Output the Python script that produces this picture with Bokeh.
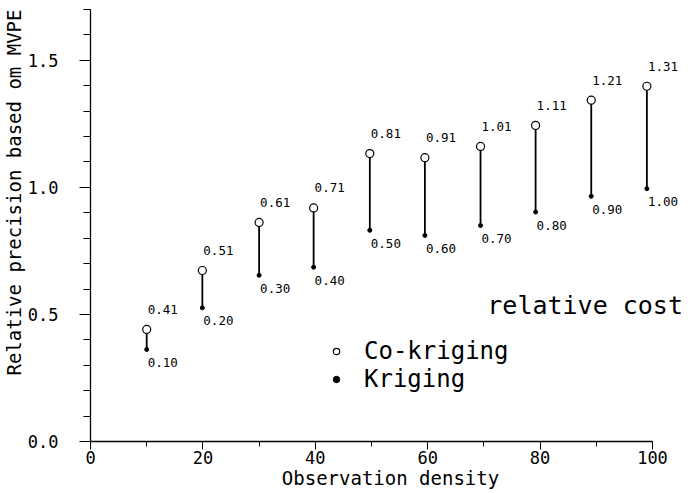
from bokeh.plotting import figure
from bokeh.models import (ColumnDataSource, Range1d, SingleIntervalTicker, Legend,
                          LegendItem, Label, PrintfTickFormatter, Title)
from bokeh.core.properties import value
from bokeh.embed import file_html
from bokeh.resources import INLINE

# ---- data ----
density = [10, 19.9, 30, 39.7, 49.7, 59.5, 69.4, 79.2, 89.1, 99.0]
cokriging = [0.441, 0.673, 0.862, 0.919, 1.133, 1.117, 1.161, 1.244, 1.343, 1.398]
kriging = [0.362, 0.526, 0.654, 0.686, 0.831, 0.811, 0.850, 0.903, 0.965, 0.995]
cost_cokriging = ["0.41", "0.51", "0.61", "0.71", "0.81", "0.91", "1.01", "1.11", "1.21", "1.31"]
cost_kriging = ["0.10", "0.20", "0.30", "0.40", "0.50", "0.60", "0.70", "0.80", "0.90", "1.00"]

FONT = "DejaVu Sans Mono"

src = ColumnDataSource(dict(x=density, cok=cokriging, kr=kriging,
                            ccok=cost_cokriging, ckr=cost_kriging))

# frame spans to the right edge so labels near x=100 are not clipped;
# the axis itself is bounded to 0..100
p = figure(width=690, height=493, output_backend="svg", toolbar_location=None,
           x_range=Range1d(0, 106.76), y_range=Range1d(0, 1.7),
           min_border_left=90, min_border_right=0, min_border_top=9, min_border_bottom=52)
p.outline_line_color = None
p.xgrid.visible = False
p.ygrid.visible = False
p.background_fill_color = "white"

# axes
xa = p.xaxis[0]
xa.bounds = (0, 100)
xa.ticker = SingleIntervalTicker(interval=20, num_minor_ticks=2)
xa.axis_label = "Observation density"
xa.axis_label_text_font = FONT
xa.axis_label_text_font_style = "normal"
xa.axis_label_text_font_size = "19px"
xa.axis_label_standoff = 0
xa.major_label_text_font = FONT
xa.major_label_text_font_size = "17px"
xa.major_label_standoff = 1
xa.major_tick_out = 8
xa.major_tick_in = 0
xa.minor_tick_out = 5
xa.minor_tick_in = 0
xa.axis_line_width = 1.3

ya = p.yaxis[0]
ya.ticker = SingleIntervalTicker(interval=0.5, num_minor_ticks=5)
ya.formatter = PrintfTickFormatter(format="%.1f")
ya.major_label_text_font = FONT
ya.major_label_text_font_size = "17px"
ya.major_label_standoff = 21
ya.major_tick_out = 11
ya.major_tick_in = 0
ya.minor_tick_out = 7
ya.minor_tick_in = 0
ya.axis_line_width = 1.3

for ax in (xa, ya):
    ax.axis_line_color = "black"
    ax.major_tick_line_color = "black"
    ax.minor_tick_line_color = "black"
    ax.major_label_text_color = "black"
    ax.axis_label_text_color = "black"

# y-axis title, aligned to the top end like in the reference
p.add_layout(Title(text="Relative precision based om MVPE", align="right",
                   text_font=FONT, text_font_size="19px", text_font_style="normal",
                   text_color="black", standoff=0, offset=0), "left")

# vertical connectors
p.segment(x0="x", y0="kr", x1="x", y1="cok", source=src, line_color="black", line_width=1.8)
r_cok = p.scatter(x="x", y="cok", source=src, marker="circle", size=8,
                  fill_color="white", line_color="black", line_width=1.2)
r_kr = p.scatter(x="x", y="kr", source=src, marker="circle", size=4,
                 fill_color="black", line_color="black")

# relative cost labels
p.text(x="x", y="cok", text="ccok", source=src, text_font=value(FONT),
       text_font_size="12.5px", text_align="left", text_baseline="middle",
       x_offset=1, y_offset=-20, text_color="black")
p.text(x="x", y="kr", text="ckr", source=src, text_font=value(FONT),
       text_font_size="12.5px", text_align="left", text_baseline="middle",
       x_offset=1, y_offset=13, text_color="black")

p.add_layout(Label(x=70.6, y=0.535, text="relative cost", text_font=FONT,
                   text_font_size="25px", text_baseline="middle", text_align="left",
                   text_color="black"))

legend = Legend(items=[LegendItem(label="Co-kriging", renderers=[r_cok]),
                       LegendItem(label="Kriging", renderers=[r_kr])],
                location=(238, 48), border_line_color=None, background_fill_alpha=0,
                padding=0, margin=0, spacing=0, glyph_width=16, glyph_height=24,
                label_height=24, label_standoff=20, label_text_font=FONT,
                label_text_font_size="24px", label_text_baseline="middle",
                label_text_color="black")
p.add_layout(legend, "center")

open("out.html", "w").write(file_html(p, INLINE))
